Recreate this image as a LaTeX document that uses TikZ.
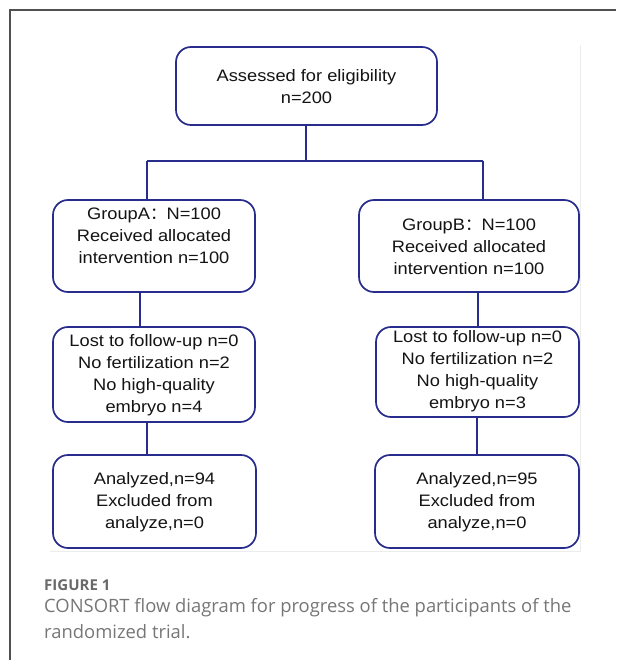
\documentclass[tikz,border=0pt]{standalone}
\usepackage{fontspec}
\newfontfamily\boxfont[FakeStretch=1.1]{Liberation Sans}
\newfontfamily\capfont{Open Sans}
\newfontfamily\cjk{Noto Sans CJK SC}
\definecolor{boxblue}{RGB}{40,44,140}
\definecolor{txtdark}{RGB}{20,20,20}
\definecolor{capgray}{RGB}{118,118,118}
\definecolor{figgray}{RGB}{105,105,105}
\definecolor{framegray}{RGB}{80,80,80}
\definecolor{edgegray}{RGB}{236,236,236}
\tikzset{
  flowbox/.style={draw=boxblue, line width=1.7pt, rounded corners=15pt, fill=white, inner sep=0pt},
  flowtxt/.style={font=\boxfont\fontsize{16.6}{22}\selectfont, text=txtdark, align=center, inner sep=0pt},
  link/.style={draw=boxblue, line width=1.6pt},
  captxt/.style={font=\capfont\fontsize{18.4}{24}\selectfont, text=capgray, anchor=west, inner sep=0pt}
}
\begin{document}
\begin{tikzpicture}[x=1pt,y=-1pt]
\useasboundingbox (0,0) rectangle (616,660);
% outer frame (top and left)
\draw[framegray, line width=1.3pt] (10,660) -- (10,10) -- (616,10);
% faint edge of the embedded image
\draw[edgegray, line width=1pt] (50,551) -- (580,551) -- (580,45);

% boxes
\node[flowbox, minimum width=261pt, minimum height=78pt] (top) at (306.5,86) {};
\node[flowbox, minimum width=202pt, minimum height=92pt] (ga) at (154,246) {};
\node[flowbox, minimum width=220pt, minimum height=92pt] (gb) at (469,246) {};
\node[flowbox, minimum width=202pt, minimum height=95pt] (la) at (154,374.5) {};
\node[flowbox, minimum width=203pt, minimum height=90pt] (lb) at (477.5,372) {};
\node[flowbox, minimum width=203pt, minimum height=93pt] (aa) at (154.5,501.5) {};
\node[flowbox, minimum width=204pt, minimum height=93pt] (ab) at (477,501.5) {};

% texts
\node[flowtxt] (topt) at (306.5,86.5) {Assessed for eligibility\\n=200};
\node[flowtxt] (gat) at (154,235.5) {GroupA{\cjk ：}N=100\\Received allocated\\intervention n=100};
\node[flowtxt] (gbt) at (469,247) {GroupB{\cjk ：}N=100\\Received allocated\\intervention n=100};
\node[flowtxt] (lat) at (154,375.5) {Lost to follow-up n=0\\No fertilization n=2\\No high-quality\\embryo n=4};
\node[flowtxt] (lbt) at (477.5,371.5) {Lost to follow-up n=0\\No fertilization n=2\\No high-quality\\embryo n=3};
\node[flowtxt] (aat) at (154.5,502.5) {Analyzed,n=94\\Excluded from\\analyze,n=0};
\node[flowtxt] (abt) at (477,502.5) {Analyzed,n=95\\Excluded from\\analyze,n=0};

% connectors
\coordinate (split) at (306,161);
\coordinate (splitl) at (147,161);
\coordinate (splitr) at (483,161);
\draw[link] (top.south -| split) -- (split);
\draw[link] (splitl) -- (splitr);
\draw[link] (splitl) -- (splitl |- ga.north);
\draw[link] (splitr) -- (splitr |- gb.north);
\coordinate (ca) at (140,0);
\coordinate (cb) at (478,0);
\draw[link] (ga.south -| ca) -- (la.north -| ca);
\draw[link] (gb.south -| cb) -- (lb.north -| cb);
\coordinate (da) at (147,0);
\coordinate (db) at (477,0);
\draw[link] (la.south -| da) -- (aa.north -| da);
\draw[link] (lb.south -| db) -- (ab.north -| db);

% caption
\node[captxt, font=\capfont\bfseries\fontsize{15}{18}\selectfont, text=figgray] (fig) at (44,585) {FIGURE 1};
\node[captxt] (cap1) at (44,608) {CONSORT flow diagram for progress of the participants of the};
\node[captxt] (cap2) at (44,632) {randomized trial.};
\end{tikzpicture}
\end{document}
